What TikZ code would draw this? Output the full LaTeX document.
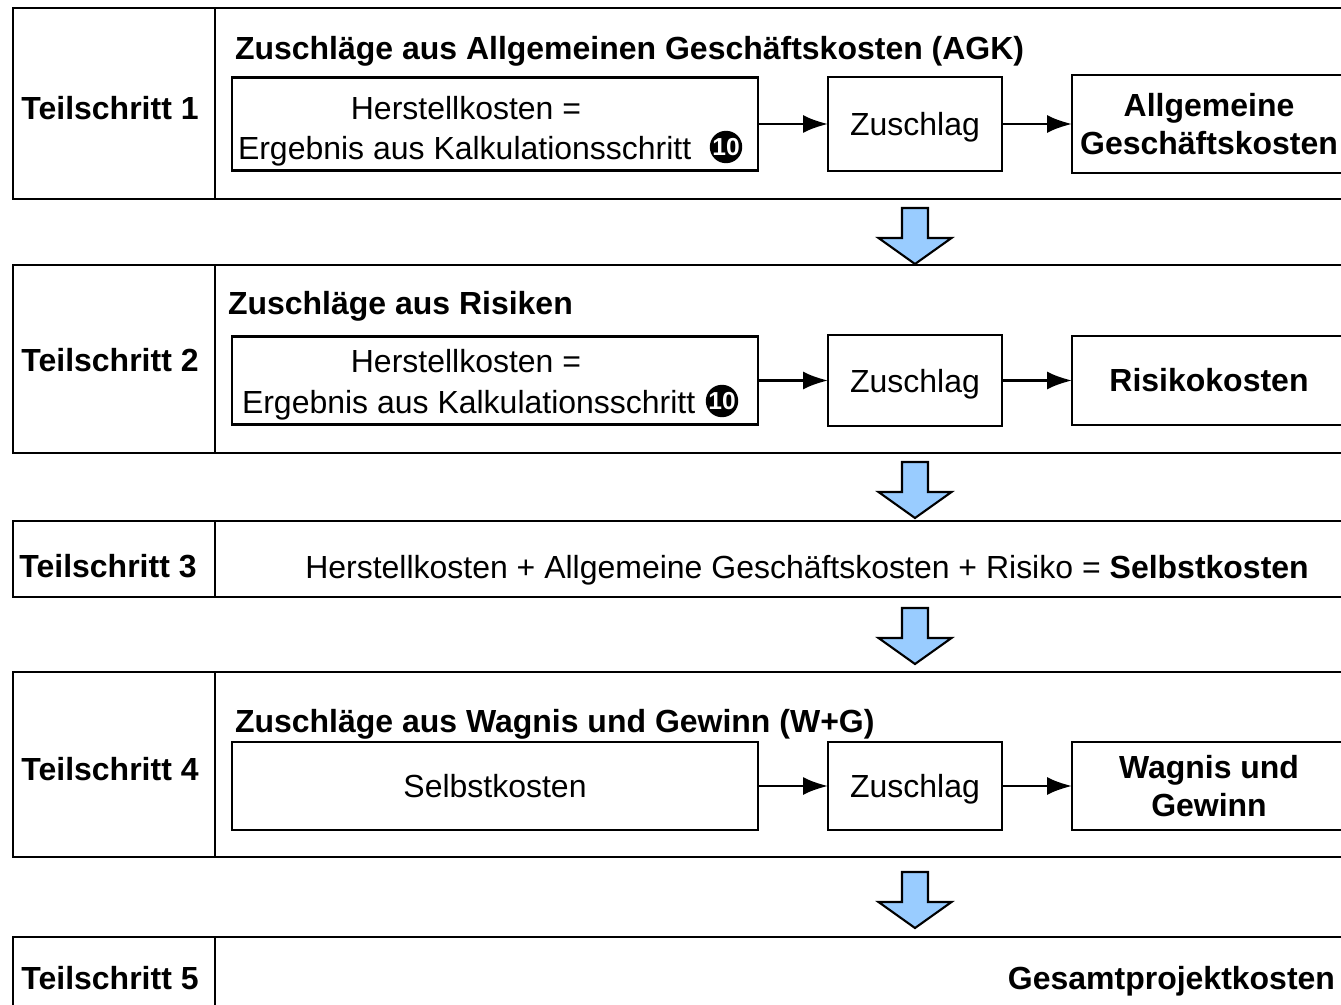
\documentclass[tikz,border=0pt]{standalone}
\usepackage{fontspec}
\setmainfont{Liberation Sans}
\usepackage{xcolor}
\usepackage{tikz}
\usetikzlibrary{shapes,arrows,arrows.meta,positioning,calc}

\definecolor{arrowblue}{RGB}{153,204,255}

\tikzset{
  cell/.style={draw,line width=1.5pt,outer sep=0pt,inner sep=0pt},
  box/.style={draw,line width=1.3pt,outer sep=0pt,inner sep=0pt},
  txt/.style={inner sep=0pt,font=\fontsize{18.2}{21.5}\selectfont},
  bold/.style={inner sep=0pt,font=\fontsize{18.2}{21.5}\selectfont\bfseries},
  flow/.style={-{Latex[length=0.5cm,width=0.36cm]},line width=1.5pt},
  blockarr/.style={fill=arrowblue,draw=black,line width=1.2pt,line join=miter},
  nr/.style={circle,fill=black,text=white,inner sep=0pt,minimum size=0.62cm,
    font=\fontsize{14}{14}\selectfont\bfseries}
}

% blue block arrow below a row, #1 = top centre
\newcommand{\bluearrow}[2]{%
  \draw [blockarr] (#1) ++(0cm,#2) ++(-0.26cm,0cm) -- ++(0.52cm,0cm)
    -- ++(0cm,-0.6cm) -- ++(0.47cm,0cm) -- ++(-0.73cm,-0.52cm)
    -- ++(-0.73cm,0.52cm) -- ++(0.47cm,0cm) -- cycle;}

\begin{document}
\begin{tikzpicture}[every node/.style={outer sep=0pt}]
\clip (0cm,0cm) rectangle (26.82cm,-20.1cm);

% Teilschritt 1
\node (L1) [cell,minimum width=4.04cm,minimum height=3.82cm] at (2.28cm,-2.07cm) {};
\node (R1) [cell,minimum width=23.7cm,minimum height=3.82cm] at (16.15cm,-2.07cm) {};
\node (T1) [bold,anchor=base] at (2.2cm,-2.4cm) {Teilschritt 1};
\node (H1) [bold,anchor=base west] at (4.7cm,-1.2cm)
  {Zuschläge aus Allgemeinen Geschäftskosten (AGK)};
\node (B1) [box,minimum width=10.52cm,minimum height=1.86cm] at (9.9cm,-2.48cm) {};
\node (B1a) [txt,anchor=base] at (9.32cm,-2.4cm) {Herstellkosten =};
\node (B1b) [txt,anchor=base west] at (4.76cm,-3.2cm) {Ergebnis aus Kalkulationsschritt};
\node (N1) [nr] at (14.52cm,-2.94cm) {10};
\node (Z1) [box,txt,text depth=0pt,minimum width=3.48cm,minimum height=1.88cm] at (18.3cm,-2.48cm) {Zuschlag};
\node (A1) [box,bold,align=center,minimum width=5.48cm,minimum height=1.96cm]
  at (24.18cm,-2.48cm) {Allgemeine\\Geschäftskosten};
\draw [flow] (B1) -- (Z1);
\draw [flow] (Z1) -- (A1);

% Teilschritt 2
\node (L2) [cell,minimum width=4.04cm,minimum height=3.76cm] at (2.28cm,-7.18cm) {};
\node (R2) [cell,minimum width=23.7cm,minimum height=3.76cm] at (16.15cm,-7.18cm) {};
\node (T2) [bold,anchor=base] at (2.2cm,-7.44cm) {Teilschritt 2};
\node (H2) [bold,anchor=base west] at (4.56cm,-6.3cm) {Zuschläge aus Risiken};
\node (B2) [box,minimum width=10.52cm,minimum height=1.76cm] at (9.9cm,-7.61cm) {};
\node (B2a) [txt,anchor=base] at (9.32cm,-7.46cm) {Herstellkosten =};
\node (B2b) [txt,anchor=base west] at (4.84cm,-8.28cm) {Ergebnis aus Kalkulationsschritt};
\node (N2) [nr] at (14.44cm,-8.02cm) {10};
\node (Z2) [box,txt,text depth=0pt,minimum width=3.48cm,minimum height=1.82cm] at (18.3cm,-7.61cm) {Zuschlag};
\node (A2) [box,bold,minimum width=5.48cm,minimum height=1.78cm]
  at (24.18cm,-7.61cm) {Risikokosten};
\draw [flow] (B2) -- (Z2);
\draw [flow] (Z2) -- (A2);

% Teilschritt 3
\node (L3) [cell,minimum width=4.04cm,minimum height=1.52cm] at (2.28cm,-11.18cm) {};
\node (R3) [cell,minimum width=23.7cm,minimum height=1.52cm] at (16.15cm,-11.18cm) {};
\node (T3) [bold,anchor=base] at (2.16cm,-11.54cm) {Teilschritt 3};
\node (S3) [txt,anchor=base] at (16.14cm,-11.56cm)
  {Herstellkosten + Allgemeine Geschäftskosten + Risiko = \textbf{Selbstkosten}};

% Teilschritt 4
\node (L4) [cell,minimum width=4.04cm,minimum height=3.7cm] at (2.28cm,-15.29cm) {};
\node (R4) [cell,minimum width=23.7cm,minimum height=3.7cm] at (16.15cm,-15.29cm) {};
\node (T4) [bold,anchor=base] at (2.2cm,-15.6cm) {Teilschritt 4};
\node (H4) [bold,anchor=base west] at (4.7cm,-14.64cm)
  {Zuschläge aus Wagnis und Gewinn (W+G)};
\node (B4) [box,txt,text depth=0pt,minimum width=10.52cm,minimum height=1.76cm] at (9.9cm,-15.72cm) {Selbstkosten};
\node (Z4) [box,txt,text depth=0pt,minimum width=3.48cm,minimum height=1.76cm] at (18.3cm,-15.72cm) {Zuschlag};
\node (A4) [box,bold,align=center,minimum width=5.48cm,minimum height=1.76cm]
  at (24.18cm,-15.72cm) {Wagnis und\\Gewinn};
\draw [flow] (B4) -- (Z4);
\draw [flow] (Z4) -- (A4);

% Teilschritt 5
\node (L5) [cell,minimum width=4.04cm,minimum height=1.86cm] at (2.28cm,-19.67cm) {};
\node (R5) [cell,minimum width=23.7cm,minimum height=1.86cm] at (16.15cm,-19.67cm) {};
\node (T5) [bold,anchor=base] at (2.2cm,-19.78cm) {Teilschritt 5};
\node (G5) [bold,anchor=base east] at (26.7cm,-19.78cm) {Gesamtprojektkosten};

% blaue Pfeile
\bluearrow{Z1 |- R1.south}{-0.18cm}
\bluearrow{Z2 |- R2.south}{-0.18cm}
\bluearrow{Z2 |- R3.south}{-0.22cm}
\bluearrow{Z4 |- R4.south}{-0.3cm}
\end{tikzpicture}
\end{document}
